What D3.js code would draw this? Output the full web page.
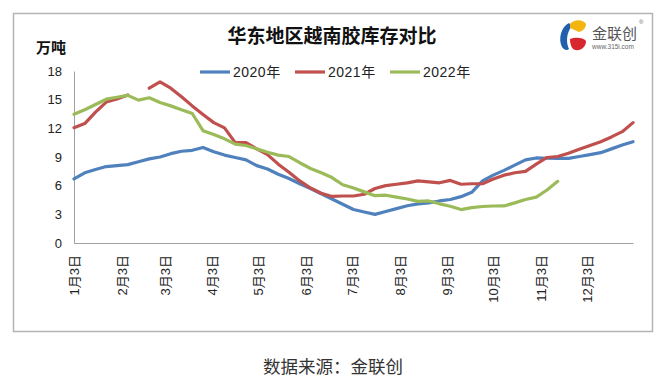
<!DOCTYPE html>
<html><head><meta charset="utf-8">
<script src="https://cdn.jsdelivr.net/npm/d3@7"></script>
<style>body{margin:0;background:#fff;} svg{display:block;}</style>
</head><body>
<svg id="chart" width="662" height="390"></svg>
<script>
// ---------- data ----------
const weekDates = [
  "2022-01-03","2022-01-10","2022-01-17","2022-01-24","2022-01-31",
  "2022-02-07","2022-02-14","2022-02-21","2022-02-28",
  "2022-03-07","2022-03-14","2022-03-21","2022-03-28",
  "2022-04-04","2022-04-11","2022-04-18","2022-04-25",
  "2022-05-02","2022-05-09","2022-05-16","2022-05-23","2022-05-30",
  "2022-06-06","2022-06-13","2022-06-20","2022-06-27",
  "2022-07-04","2022-07-11","2022-07-18","2022-07-25",
  "2022-08-01","2022-08-08","2022-08-15","2022-08-22","2022-08-29",
  "2022-09-05","2022-09-12","2022-09-19","2022-09-26",
  "2022-10-03","2022-10-10","2022-10-17","2022-10-24","2022-10-31",
  "2022-11-07","2022-11-14","2022-11-21","2022-11-28",
  "2022-12-05","2022-12-12","2022-12-19","2022-12-26","2023-01-02"
];
const series2020 = [6.7,7.35,7.7,8.0,8.1,8.2,8.5,8.8,9.0,9.35,9.6,9.7,10.0,9.55,9.2,8.95,8.7,8.1,7.75,7.2,6.75,6.2,5.7,5.15,4.6,4.05,3.5,3.25,3.0,3.3,3.6,3.9,4.1,4.2,4.4,4.55,4.85,5.3,6.5,7.1,7.6,8.15,8.7,8.9,8.87,8.86,8.86,9.05,9.25,9.45,9.85,10.25,10.6];
const series2021 = [12.07,12.5,13.7,14.75,15.07,15.5,null,16.2,16.85,16.2,15.3,14.35,13.45,12.6,12.05,10.5,10.5,9.85,9.25,8.25,7.4,6.5,5.75,5.2,4.87,4.92,4.92,5.1,5.7,6.0,6.15,6.3,6.5,6.4,6.3,6.55,6.15,6.2,6.2,6.7,7.1,7.35,7.5,8.25,8.95,9.05,9.4,9.8,10.2,10.6,11.1,11.65,12.6];
const series2022 = [13.47,13.95,14.5,15.05,15.25,15.45,14.95,15.2,14.7,14.35,13.95,13.55,11.75,11.35,10.9,10.35,10.2,9.85,9.5,9.2,9.05,8.4,7.8,7.35,6.85,6.1,5.75,5.35,4.95,5.0,4.8,4.6,4.35,4.4,4.1,3.85,3.5,3.7,3.82,3.87,3.88,4.2,4.55,4.8,5.55,6.45];
const seriesNames = ["2020年","2021年","2022年"];
const seriesColors = ["#4F81BD","#C0504D","#9BBB59"];
const yTicks = [0,3,6,9,12,15,18];
const xTickDates = ["2022-01-03","2022-02-03","2022-03-03","2022-04-03","2022-05-03","2022-06-03","2022-07-03","2022-08-03","2022-09-03","2022-10-03","2022-11-03","2022-12-03"];
const xTickLabels = ["1月3日","2月3日","3月3日","4月3日","5月3日","6月3日","7月3日","8月3日","9月3日","10月3日","11月3日","12月3日"];
const titleText = "华东地区越南胶库存对比";
const unitText = "万吨";
const sourceText = "数据来源：金联创";

// ---------- chart ----------
const svg = d3.select("#chart");
const parse = d3.timeParse("%Y-%m-%d");
const dates = weekDates.map(parse);
const x = d3.scaleTime().domain([dates[0], dates[dates.length-1]]).range([74, 633]);
const y = d3.scaleLinear().domain([0, 18]).range([243, 71]);
const latin = "'Liberation Sans', Arial, 'Noto Sans CJK SC', sans-serif";
const cjk = "'Noto Sans CJK SC', 'Noto Sans', sans-serif";

// frame
svg.append("rect").attr("x", 13.5).attr("y", 13.5).attr("width", 639).attr("height", 318)
  .attr("fill", "#fff").attr("stroke", "#b4b4b4").attr("stroke-width", 1.5);

// title
svg.append("text").attr("x", 332).attr("y", 43).attr("text-anchor", "middle")
  .style("font-family", cjk).style("font-weight", 700).style("font-size", "19px")
  .attr("fill", "#111").text(titleText);

// unit
svg.append("text").attr("x", 51).attr("y", 53).attr("text-anchor", "middle")
  .style("font-family", cjk).style("font-weight", 700).style("font-size", "15px")
  .attr("fill", "#111").text(unitText);

// y axis
const gy = svg.append("g").attr("transform", "translate(74,0)")
  .call(d3.axisLeft(y).tickValues(yTicks).tickSize(0).tickSizeOuter(0).tickPadding(12));
gy.select(".domain").attr("stroke", "#a0a0a0");
gy.selectAll("text").style("font-family", latin).style("font-size", "13px").attr("fill", "#222");

// x axis
const gx = svg.append("g").attr("transform", "translate(0,243)")
  .call(d3.axisBottom(x).tickValues(xTickDates.map(parse)).tickFormat((d, i) => xTickLabels[i])
    .tickSize(0).tickSizeOuter(0));
gx.select(".domain").attr("stroke", "#a0a0a0");
gx.selectAll("text")
  .attr("transform", "rotate(-90)")
  .attr("text-anchor", "end")
  .attr("x", -12).attr("y", 0).attr("dy", "0.35em")
  .style("font-family", latin).style("font-size", "13px").attr("fill", "#222");

// lines
const allSeries = [series2020, series2021, series2022];
const line = d3.line()
  .defined(d => d.v != null)
  .x(d => x(d.date)).y(d => y(d.v));
allSeries.forEach((s, i) => {
  const pts = s.map((v, k) => ({date: dates[k], v}));
  svg.append("path").datum(pts)
    .attr("fill", "none").attr("stroke", seriesColors[i]).attr("stroke-width", 3.2)
    .attr("stroke-linejoin", "round").attr("stroke-linecap", "round")
    .attr("d", line);
});

// legend
const lg = svg.append("g").attr("transform", "translate(200,72)");
seriesNames.forEach((name, i) => {
  const g = lg.append("g").attr("transform", `translate(${i * 95},0)`);
  g.append("line").attr("x1", 0).attr("x2", 30).attr("y1", 0).attr("y2", 0)
    .attr("stroke", seriesColors[i]).attr("stroke-width", 3.2);
  g.append("text").attr("x", 33).attr("y", 0).attr("dy", "0.36em")
    .style("font-family", latin).style("font-size", "14px").style("letter-spacing", "0.5px")
    .attr("fill", "#222").text(name);
});

// logo
const logo = svg.append("g").attr("transform", "translate(559,19)");
logo.append("path").attr("d", "M10,4 C2,8 -1,20 3,28 C5,31 8,32 10,30 C7,24 7,14 13,7 Z").attr("fill", "#1f5fae");
logo.append("path").attr("d", "M11,5 C15,0 24,0 27,5 C27,9 24,12 20,13 C17,12 14,10 11,9 Z").attr("fill", "#f3b511");
logo.append("path").attr("d", "M11,20 C16,18 24,18 27,22 C27,28 22,32 16,31 C13,30 11,26 11,20 Z").attr("fill", "#d8262f");
logo.append("text").attr("x", 33).attr("y", 20).style("font-family", cjk).style("font-size", "15px")
  .attr("fill", "#555").text("金联创");
logo.append("text").attr("x", 33).attr("y", 30).style("font-family", latin).style("font-size", "6.5px")
  .attr("fill", "#666").text("www.315i.com");
logo.append("text").attr("x", 80).attr("y", 5).style("font-family", latin).style("font-size", "6px")
  .attr("fill", "#666").text("®");

// source
svg.append("text").attr("x", 333).attr("y", 373).attr("text-anchor", "middle")
  .style("font-family", cjk).style("font-size", "17.5px").attr("fill", "#333").text(sourceText);
</script>
</body></html>
